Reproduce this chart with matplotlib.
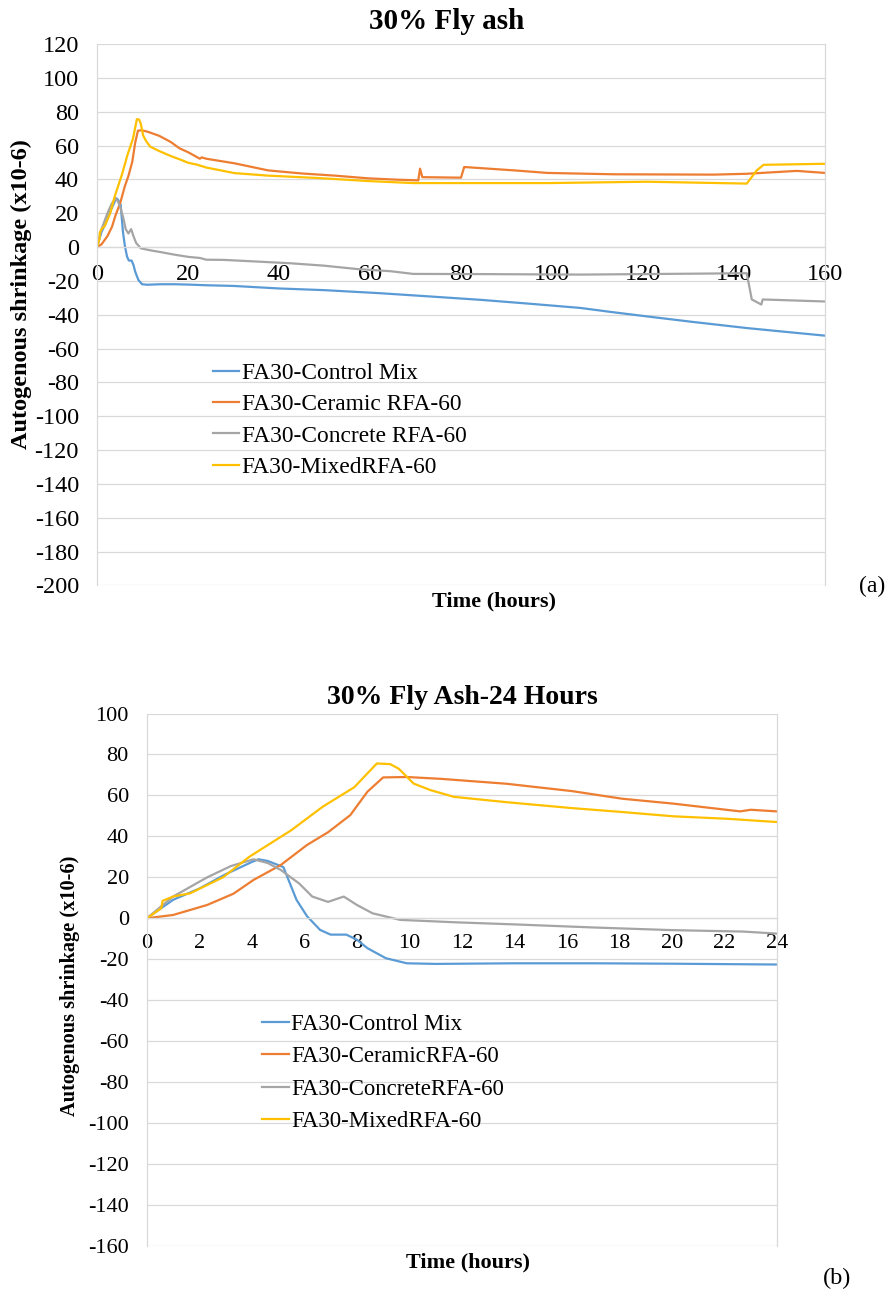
import matplotlib
matplotlib.use("Agg")
import matplotlib.pyplot as plt

plt.rcParams['font.family'] = ['Liberation Serif', 'DejaVu Serif']
plt.rcParams['axes.unicode_minus'] = False

# first 24 hours (panel b, also the start of panel a)
t_ctrl_24 = [0, 1, 2, 3, 4, 4.25, 4.6, 5.2, 5.7, 6.1, 6.6, 7.0, 7.6, 8.0, 8.4, 9.1, 9.9, 11, 14, 17, 20, 22, 24]
v_ctrl_24 = [0, 9, 14.5, 21.5, 27.5, 28.8, 28, 25, 9, 1, -5.7, -8, -8, -10.5, -14.6, -19.5, -22, -22.3, -22, -22, -22.2, -22.4, -22.6]

t_cer_24 = [0, 1, 2.3, 3.3, 4.06, 5.1, 6.1, 6.9, 7.75, 8.4, 9.0, 9.9, 11.2, 13.7, 16.2, 18.1, 20.05, 22.6, 23, 24]
v_cer_24 = [0, 1.6, 6.5, 12, 18.7, 26, 35.8, 42, 50.4, 61.8, 68.8, 69, 68.1, 65.7, 62.1, 58.4, 56, 52.2, 53, 52.2]

t_con_24 = [0, 1, 2.3, 3.2, 4.06, 4.6, 5.1, 5.8, 6.3, 6.9, 7.5, 8.0, 8.6, 9.65, 11.8, 14, 17, 20, 22.7, 24]
v_con_24 = [0, 10.6, 20, 25.5, 28.8, 27, 23.6, 17, 10.6, 8, 10.6, 6.5, 2.4, -0.8, -2, -3, -4.5, -5.8, -6.5, -7.5]

t_mix_24 = [0, 0.55, 0.6, 1, 1.65, 2.9, 3.9, 5.5, 6.7, 7.9, 8.76, 9.27, 9.6, 10.16, 10.8, 11.7, 13.7, 16.2, 18.1, 20.05, 22.1, 24]
v_mix_24 = [0, 4.9, 8.5, 10.6, 12.2, 20, 30, 43, 54.5, 64, 75.6, 75.3, 73, 65.8, 62.6, 59.3, 56.7, 53.8, 51.9, 49.8, 48.6, 47]

# after 24 hours (panel a only)
t_ctrl_late = [30, 40, 50, 62.2, 73, 84.2, 95, 106.2, 113, 120.8, 131, 142.8, 150, 160]
v_ctrl_late = [-23, -24.5, -25.5, -27.3, -29.2, -31.2, -33.5, -36, -38.4, -41, -44.3, -47.9, -49.8, -52.4]

t_cer_late = [30.2, 37.6, 44.9, 52.3, 59.6, 66, 70.6, 71, 71.5, 80, 80.7, 91.7, 99, 113.6, 135.6, 142.8, 153.8, 160]
v_cer_late = [49.5, 45.3, 43.5, 42.2, 40.6, 39.8, 39.4, 46.3, 41.3, 41, 47.3, 45.3, 43.8, 43, 42.8, 43.3, 45, 43.8]

t_con_late = [27.8, 35.2, 42.5, 49.8, 57.1, 64.5, 69.5, 84.2, 106.2, 142.8, 143.9, 146, 146.3, 160]
v_con_late = [-7.6, -8.6, -9.6, -11, -13, -14.3, -15.9, -16, -16.3, -15.5, -31, -34, -31, -32.2]

t_mix_late = [30.2, 37.6, 48.5, 59.6, 69.5, 99, 120.8, 142.8, 145, 146.5, 160]
v_mix_late = [43.7, 42.2, 40.8, 39, 37.8, 37.8, 38.6, 37.5, 45.3, 48.6, 49.2]

labels_a = ["FA30-Control Mix", "FA30-Ceramic RFA-60", "FA30-Concrete RFA-60", "FA30-MixedRFA-60"]
labels_b = ["FA30-Control Mix", "FA30-CeramicRFA-60", "FA30-ConcreteRFA-60", "FA30-MixedRFA-60"]
colors = ["#5B9BD5", "#ED7D31", "#A5A5A5", "#FFC000"]

series_24 = [(t_ctrl_24, v_ctrl_24), (t_cer_24, v_cer_24), (t_con_24, v_con_24), (t_mix_24, v_mix_24)]
series_late = [(t_ctrl_late, v_ctrl_late), (t_cer_late, v_cer_late), (t_con_late, v_con_late), (t_mix_late, v_mix_late)]

grid_c = "#D9D9D9"


def style_axes(ax, xlim, xstep, ylim, ystep, title, title_fs, title_pad, title_x, tick_fs, xpad, time_x, time_fs):
    ax.set_xlim(*xlim)
    ax.set_ylim(*ylim)
    ax.set_xticks(range(xlim[0], xlim[1] + 1, xstep))
    ax.set_yticks(range(ylim[0], ylim[1] + 1, ystep))
    ax.grid(axis='y', color=grid_c, lw=0.9)
    ax.set_axisbelow(True)
    ax.spines['top'].set_visible(False)
    for s in ['left', 'right']:
        ax.spines[s].set_color(grid_c)
        ax.spines[s].set_linewidth(0.9)
    # x axis crosses at zero, like the spreadsheet chart
    ax.spines['bottom'].set_position(('data', 0))
    ax.spines['bottom'].set_color(grid_c)
    ax.spines['bottom'].set_linewidth(0.9)
    ax.tick_params(axis='x', length=0, labelsize=tick_fs, pad=xpad)
    ax.tick_params(axis='y', length=0, labelsize=tick_fs, pad=13)
    ax.set_title(title, fontsize=title_fs, fontweight='bold', pad=title_pad, x=title_x)
    ax.text(time_x, -0.012, "Time (hours)", transform=ax.transAxes, ha='center', va='top',
            fontsize=time_fs, fontweight='bold')


fig = plt.figure(figsize=(8.9, 12.95), dpi=100)

ax1 = fig.add_axes([0.109, 0.548, 0.818, 0.418])
for (t0, v0), (t1, v1), c, lab in zip(series_24, series_late, colors, labels_a):
    ax1.plot(list(t0) + list(t1), list(v0) + list(v1), color=c, lw=1.6, label=lab)
style_axes(ax1, (0, 160), 20, (-200, 120), 20, "30% Fly ash", 21, 11, 0.48, 17.5, 12, 0.545, 16)
ax1.legend(loc='upper left', bbox_to_anchor=(0.146, 0.429), frameon=False, fontsize=16.8,
           handlelength=1.15, handletextpad=0.1, labelspacing=0.43, borderaxespad=0)
fig.text(21 / 890, 1 - 294 / 1295, "Autogenous shrinkage (x10-6)", rotation=90,
         ha='center', va='center', fontsize=17.5, fontweight='bold')

ax2 = fig.add_axes([0.165, 0.038, 0.708, 0.411])
for (t0, v0), c, lab in zip(series_24, colors, labels_b):
    ax2.plot(t0, v0, color=c, lw=1.6, label=lab)
style_axes(ax2, (0, 24), 2, (-160, 100), 20, "30% Fly Ash-24 Hours", 20, 7, 0.5, 16, 11, 0.51, 16)
ax2.legend(loc='upper left', bbox_to_anchor=(0.168, 0.453), frameon=False, fontsize=16.4,
           handlelength=1.2, handletextpad=0.1, labelspacing=0.5, borderaxespad=0)
fig.text(70 / 890, 1 - 986 / 1295, "Autogenous shrinkage (x10-6)", rotation=90,
         ha='center', va='center', fontsize=14.7, fontweight='bold')

fig.text(0.995, 0.547, "(a)", fontsize=17, ha='right', va='center')
fig.text(0.957, 0.013, "(b)", fontsize=17.5, ha='right', va='center')

fig.savefig("out.png", dpi=100)
